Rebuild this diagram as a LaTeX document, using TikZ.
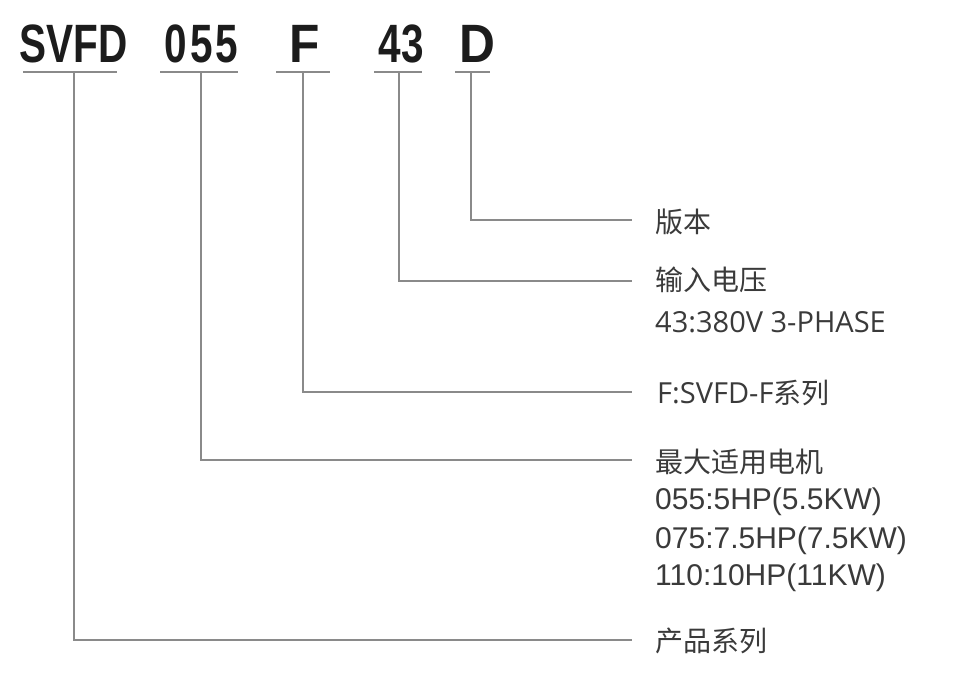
\documentclass[tikz,border=0pt]{standalone}
\usepackage{fontspec}
\setmainfont{Liberation Sans}
\newfontfamily\cjk{Noto Sans CJK SC}
\newfontfamily\opensans{Open Sans}
\newfontfamily\headfont{Liberation Sans}[FakeStretch=0.75]
\newfontfamily\headwide{Liberation Sans}[FakeStretch=0.92]
\usetikzlibrary{calc}
\usetikzlibrary{positioning}

\definecolor{leadgray}{HTML}{8A8A8A}
\definecolor{textgray}{HTML}{3A3A3A}
\definecolor{headblack}{HTML}{1C1C1C}

\tikzset{
  code/.style={anchor=base, inner sep=0pt, text=headblack, font=\headfont\bfseries\fontsize{54}{54}\selectfont},
  codewide/.style={code, font=\headwide\bfseries\fontsize{54}{54}\selectfont},
  bar/.style={draw=leadgray, line width=1.4pt},
  leader/.style={draw=leadgray, line width=1.4pt},
  label/.style={anchor=west, inner sep=0pt, text=textgray, font=\cjk\fontsize{28}{28}\selectfont},
  spec/.style={anchor=west, inner sep=0pt, text=textgray, font=\opensans\fontsize{29}{29}\selectfont},
  motor/.style={anchor=west, inner sep=0pt, text=textgray, font=\fontsize{30}{30}\selectfont}
}

\begin{document}
\begin{tikzpicture}[x=1pt, y=-1pt]
\useasboundingbox (0,0) rectangle (957,680);

% model code
\node[code] (series) at (73.5,62) {SVFD};
\node[code, font=\headfont\bfseries\fontsize{54}{54}\selectfont\addfontfeature{LetterSpace=6}] (power) at (201.5,62) {055};
\node[codewide] (family) at (305,62) {F};
\node[code] (volt) at (401,62) {43};
\node[codewide] (ver) at (477,62) {D};

% underlines and leaders
\foreach \tap/\xa/\xb/\ly in {74/23/117/640, 201/160/238/460, 303/276/330/392, 399/374/422/281, 471/455/490/220}{
  \draw[bar] (\xa,72) -- (\xb,72);
  \coordinate (tap) at (\tap,72);
  \coordinate (end) at (632,\ly);
  \draw[leader] (tap) |- (end);
}

% descriptions
\node[label] (verlbl) at (655,222) {版本};
\node[label] (voltlbl) at (655,280) {输入电压};
\node[spec] (voltval) at (655,322) {43:380V 3-PHASE};
\node[spec] (famlbl) at (657,393) {F:SVFD-F{\cjk\fontsize{28}{28}\selectfont 系列}};
\node[label] (powerlbl) at (655,462) {最大适用电机};
\node[motor] (p055) at (655,502) {055:5HP(5.5KW)};
\node[motor] (p075) at (655,541) {075:7.5HP(7.5KW)};
\node[motor] (p110) at (655,578) {110:10HP(11KW)};
\node[label] (serieslbl) at (655,641) {产品系列};

\end{tikzpicture}
\end{document}
